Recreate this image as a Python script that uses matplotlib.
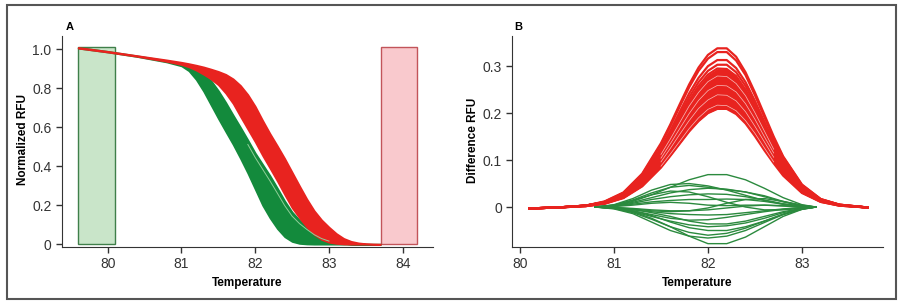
import matplotlib
matplotlib.use('Agg')
import matplotlib.pyplot as plt
from matplotlib.patches import Rectangle

plt.rcParams['font.family'] = ['Liberation Sans', 'DejaVu Sans']

#
# Panel A: normalized melt curves (band edges)
#
temp_a = [79.6, 80.0, 80.4, 80.8, 81.0, 81.1, 81.2, 81.3, 81.4, 81.5, 81.6, 81.7, 81.8, 81.9,
          82.0, 82.1, 82.2, 82.3, 82.4, 82.5, 82.6, 82.7, 82.8, 82.9, 83.0, 83.1, 83.2,
          83.3, 83.4, 83.5, 83.6, 83.7]
green_lo = [1.006, 0.986, 0.963, 0.935, 0.915, 0.890, 0.845, 0.785, 0.715, 0.645, 0.578, 0.512, 0.440, 0.364,
            0.282, 0.200, 0.135, 0.080, 0.038, 0.014, 0.004, 0.001, 0.0, 0.0, 0.0, 0.0, 0.0,
            0.0, 0.0, 0.0, 0.0, 0.0]
green_hi = [1.010, 0.990, 0.967, 0.942, 0.925, 0.912, 0.895, 0.872, 0.840, 0.788, 0.728, 0.663, 0.600, 0.535,
            0.468, 0.410, 0.352, 0.288, 0.222, 0.165, 0.124, 0.090, 0.058, 0.035, 0.020, 0.010, 0.004,
            0.001, 0.0, 0.0, 0.0, 0.0]
red_lo = [1.006, 0.986, 0.964, 0.938, 0.922, 0.910, 0.893, 0.872, 0.848, 0.818, 0.775, 0.722, 0.655, 0.590,
          0.525, 0.455, 0.390, 0.324, 0.254, 0.187, 0.135, 0.088, 0.050, 0.024, 0.010, 0.004, 0.001,
          0.0, 0.0, 0.0, 0.0, 0.0]
red_hi = [1.010, 0.990, 0.968, 0.946, 0.934, 0.927, 0.919, 0.910, 0.899, 0.887, 0.872, 0.849, 0.815, 0.768,
          0.708, 0.636, 0.568, 0.505, 0.440, 0.370, 0.300, 0.232, 0.172, 0.125, 0.088, 0.055, 0.030,
          0.015, 0.007, 0.003, 0.001, 0.0]
# the pale curve running just inside the right edge of the green band
temp_pale = [81.9, 82.0, 82.1, 82.2, 82.3, 82.4, 82.5, 82.6, 82.7, 82.8, 82.9, 83.0]
green_pale = [0.512, 0.445, 0.385, 0.325, 0.262, 0.198, 0.144, 0.106, 0.076, 0.049, 0.029, 0.016]
pre_melt = [79.6, 80.1]
post_melt = [83.7, 84.2]
window_top = 1.01

#
# Panel B: difference curves
#
temp_b = [80.1, 80.4, 80.7, 80.9, 81.1, 81.3, 81.5, 81.6, 81.7, 81.8, 81.9, 82.0,
          82.1, 82.2, 82.3, 82.4, 82.5, 82.6, 82.7, 82.8, 83.0, 83.2, 83.4, 83.7]
red_curves = [
    [-0.003, -0.001, 0.003, 0.012, 0.031, 0.071, 0.136, 0.176, 0.219, 0.261, 0.297, 0.324, 0.338, 0.338, 0.320, 0.287, 0.244, 0.197, 0.150, 0.108, 0.048, 0.017, 0.005, -0.001],
    [-0.003, -0.001, 0.003, 0.011, 0.030, 0.069, 0.133, 0.172, 0.214, 0.255, 0.290, 0.316, 0.330, 0.330, 0.312, 0.281, 0.238, 0.192, 0.146, 0.106, 0.047, 0.017, 0.005, -0.001],
    [-0.003, -0.001, 0.003, 0.011, 0.029, 0.066, 0.126, 0.163, 0.203, 0.242, 0.275, 0.300, 0.313, 0.313, 0.296, 0.266, 0.226, 0.182, 0.139, 0.100, 0.045, 0.016, 0.005, -0.001],
    [-0.003, -0.001, 0.003, 0.010, 0.028, 0.064, 0.122, 0.158, 0.196, 0.234, 0.266, 0.290, 0.303, 0.303, 0.287, 0.258, 0.219, 0.176, 0.135, 0.097, 0.043, 0.016, 0.005, -0.001],
    [-0.003, -0.001, 0.003, 0.010, 0.027, 0.062, 0.118, 0.154, 0.191, 0.227, 0.258, 0.282, 0.295, 0.294, 0.279, 0.250, 0.213, 0.171, 0.131, 0.094, 0.042, 0.015, 0.004, -0.001],
    [-0.003, -0.001, 0.003, 0.010, 0.026, 0.060, 0.115, 0.149, 0.185, 0.221, 0.251, 0.274, 0.287, 0.286, 0.271, 0.243, 0.207, 0.166, 0.127, 0.092, 0.041, 0.015, 0.004, -0.001],
    [-0.003, -0.001, 0.003, 0.010, 0.025, 0.059, 0.112, 0.145, 0.180, 0.215, 0.244, 0.267, 0.279, 0.278, 0.263, 0.237, 0.201, 0.162, 0.123, 0.089, 0.040, 0.014, 0.004, -0.001],
    [-0.003, -0.001, 0.003, 0.009, 0.025, 0.056, 0.108, 0.140, 0.174, 0.207, 0.236, 0.257, 0.269, 0.268, 0.254, 0.228, 0.194, 0.156, 0.119, 0.086, 0.038, 0.014, 0.004, -0.001],
    [-0.003, -0.001, 0.003, 0.009, 0.024, 0.054, 0.104, 0.135, 0.167, 0.199, 0.227, 0.248, 0.259, 0.258, 0.245, 0.220, 0.187, 0.150, 0.115, 0.083, 0.037, 0.013, 0.004, -0.001],
    [-0.003, -0.001, 0.003, 0.009, 0.023, 0.052, 0.100, 0.130, 0.161, 0.192, 0.218, 0.238, 0.249, 0.248, 0.235, 0.211, 0.180, 0.145, 0.110, 0.080, 0.036, 0.013, 0.004, -0.001],
    [-0.003, -0.001, 0.002, 0.008, 0.022, 0.050, 0.096, 0.125, 0.155, 0.184, 0.210, 0.228, 0.239, 0.238, 0.226, 0.203, 0.172, 0.139, 0.106, 0.077, 0.034, 0.012, 0.004, -0.001],
    [-0.003, -0.001, 0.002, 0.008, 0.021, 0.048, 0.091, 0.118, 0.147, 0.175, 0.199, 0.217, 0.227, 0.226, 0.215, 0.193, 0.164, 0.132, 0.101, 0.073, 0.032, 0.012, 0.003, -0.001],
    [-0.003, -0.001, 0.002, 0.007, 0.020, 0.046, 0.087, 0.113, 0.140, 0.167, 0.190, 0.208, 0.217, 0.216, 0.205, 0.184, 0.157, 0.126, 0.096, 0.070, 0.031, 0.011, 0.003, -0.001],
    [-0.003, -0.001, 0.002, 0.007, 0.019, 0.044, 0.084, 0.109, 0.135, 0.161, 0.183, 0.200, 0.209, 0.209, 0.198, 0.178, 0.151, 0.121, 0.093, 0.067, 0.030, 0.011, 0.003, -0.001],
]
temp_g = [80.8, 81.0, 81.2, 81.4, 81.6, 81.8, 82.0, 82.2, 82.4, 82.6, 82.8, 83.0, 83.15]
green_curves = [
    [0, 0.003, 0.012, 0.026, 0.042, 0.058, 0.069, 0.069, 0.058, 0.040, 0.020, 0.005, 0],
    [0, 0.005, 0.018, 0.036, 0.048, 0.050, 0.045, 0.036, 0.025, 0.014, 0.006, 0.001, 0],
    [0, 0.004, 0.015, 0.030, 0.042, 0.046, 0.042, 0.037, 0.032, 0.024, 0.012, 0.003, 0],
    [0, 0.003, 0.010, 0.020, 0.030, 0.037, 0.040, 0.038, 0.032, 0.022, 0.011, 0.003, 0],
    [0, 0.004, 0.014, 0.026, 0.034, 0.032, 0.022, 0.010, 0.000, -0.006, -0.006, -0.003, 0],
    [0, 0.002, 0.008, 0.016, 0.022, 0.026, 0.028, 0.027, 0.022, 0.015, 0.007, 0.002, 0],
    [0, 0.002, 0.006, 0.011, 0.014, 0.016, 0.016, 0.017, 0.016, 0.012, 0.006, 0.002, 0],
    [0, 0.001, 0.004, 0.008, 0.010, 0.008, 0.004, 0.003, 0.004, 0.004, 0.002, 0.000, 0],
    [0, -0.001, -0.003, -0.006, -0.008, -0.008, -0.006, -0.002, 0.002, 0.004, 0.003, 0.001, 0],
    [0, -0.002, -0.006, -0.010, -0.014, -0.016, -0.017, -0.016, -0.012, -0.008, -0.004, -0.001, 0],
    [0, -0.002, -0.008, -0.016, -0.024, -0.028, -0.027, -0.022, -0.016, -0.010, -0.005, -0.001, 0],
    [0, -0.001, -0.005, -0.012, -0.020, -0.030, -0.036, -0.036, -0.030, -0.020, -0.010, -0.003, 0],
    [0, -0.003, -0.010, -0.020, -0.030, -0.038, -0.042, -0.040, -0.034, -0.024, -0.012, -0.004, 0],
    [0, -0.002, -0.008, -0.018, -0.032, -0.044, -0.050, -0.050, -0.042, -0.030, -0.016, -0.005, 0],
    [0, -0.003, -0.012, -0.026, -0.042, -0.054, -0.060, -0.056, -0.045, -0.030, -0.015, -0.004, 0],
    [0, -0.004, -0.014, -0.032, -0.050, -0.062, -0.066, -0.062, -0.050, -0.033, -0.016, -0.004, 0],
    [0, -0.002, -0.010, -0.024, -0.042, -0.062, -0.078, -0.078, -0.064, -0.042, -0.020, -0.005, 0],
    [0, -0.001, -0.004, -0.008, -0.010, -0.008, -0.002, 0.008, 0.016, 0.018, 0.012, 0.004, 0],
]

GREEN = '#138a3c'
GREEN_LINE = '#2b8a3e'
RED = '#e8231f'
AXC = '#333333'

fig = plt.figure(figsize=(9.02, 3.06), dpi=100)
axA = fig.add_axes([0.0687, 0.193, 0.4113, 0.689])
axB = fig.add_axes([0.568, 0.193, 0.4106, 0.689])

# panel A
axA.add_patch(Rectangle((pre_melt[0], 0), pre_melt[1] - pre_melt[0], window_top,
                        facecolor='#c9e5c9', edgecolor='#3f7f4a', lw=1))
axA.add_patch(Rectangle((post_melt[0], 0), post_melt[1] - post_melt[0], window_top,
                        facecolor='#f9c9cd', edgecolor='#c2545a', lw=1))
axA.fill_between(temp_a, green_lo, green_hi, color=GREEN, lw=1.2)
axA.plot(temp_pale, green_pale, color='#8fcf98', lw=0.7)
axA.fill_between(temp_a, red_lo, red_hi, color=RED, lw=1.2)
axA.set_xlim(79.38, 84.41)
axA.set_ylim(-0.014, 1.068)
axA.set_xticks([80, 81, 82, 83, 84])
axA.set_yticks([0, 0.2, 0.4, 0.6, 0.8, 1.0])
axA.set_yticklabels(['0', '0.2', '0.4', '0.6', '0.8', '1.0'])

# panel B: dense red bundle, then the separate curves, then pale gaps between them
axB.fill_between(temp_b, red_curves[-1], red_curves[4], color=RED, lw=0)
for c in red_curves:
    axB.plot(temp_b, c, color=RED, lw=1.6)
for i in (6, 8, 10, 12):
    axB.plot(temp_b[6:19], red_curves[i][6:19], color='white', lw=0.5, alpha=0.7)
for c in green_curves:
    axB.plot(temp_g, c, color=GREEN_LINE, lw=1.0)
axB.set_xlim(79.918, 83.86)
axB.set_ylim(-0.085, 0.364)
axB.set_xticks([80, 81, 82, 83])
axB.set_yticks([0, 0.1, 0.2, 0.3])
axB.set_yticklabels(['0', '0.1', '0.2', '0.3'])

for ax in (axA, axB):
    for s in ('top', 'right'):
        ax.spines[s].set_visible(False)
    for s in ('left', 'bottom'):
        ax.spines[s].set_color(AXC)
    ax.tick_params(direction='out', length=4, width=1, colors=AXC, labelsize=10)
    ax.set_xlabel('Temperature', fontweight='bold', fontsize=8.5, labelpad=4)

fig.text(23 / 902, 1 - 140 / 306, 'Normalized RFU', rotation=90, ha='center', va='center',
         fontweight='bold', fontsize=8.5)
fig.text(473 / 902, 1 - 140 / 306, 'Difference RFU', rotation=90, ha='center', va='center',
         fontweight='bold', fontsize=8.5)
fig.text(70 / 902, 1 - 27 / 306, 'A', ha='center', va='center', fontweight='bold', fontsize=8)
fig.text(518 / 902, 1 - 27 / 306, 'B', ha='center', va='center', fontweight='bold', fontsize=8)

# frame round the whole figure
fig.add_artist(Rectangle((7 / 902, 1 - 299 / 306), 889 / 902, 294 / 306,
                         transform=fig.transFigure, fill=False, edgecolor='#555555', lw=1.5))

fig.savefig('out.png', dpi=100)
